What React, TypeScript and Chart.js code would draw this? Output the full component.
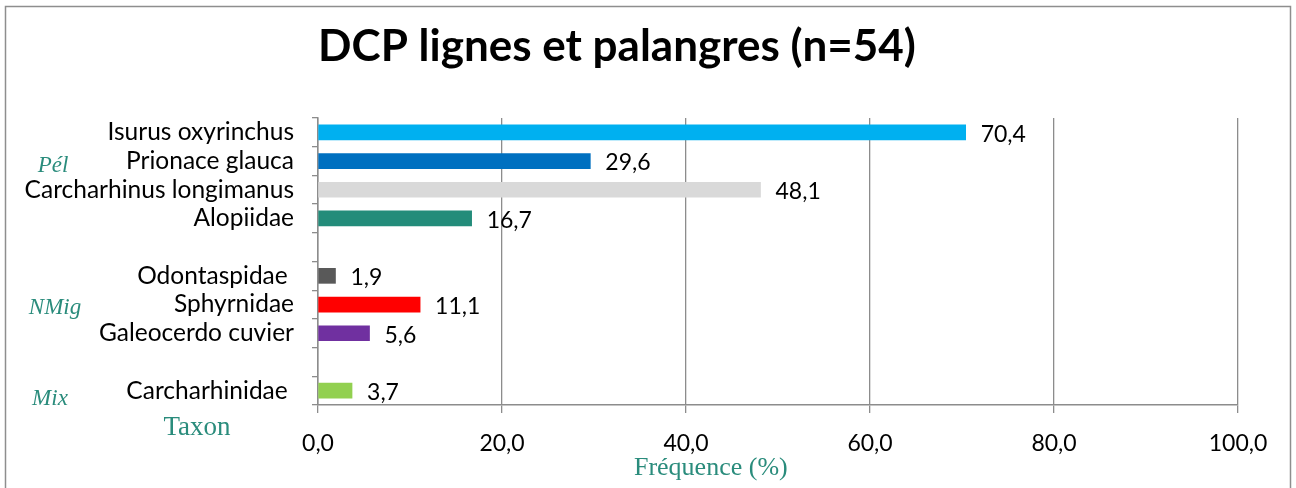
import React, { useEffect, useRef } from 'react';
import { Chart, registerables } from 'chart.js';

Chart.register(...registerables);

const title = 'DCP lignes et palangres (n=54)';
const categories = [
  'Isurus oxyrinchus',
  'Prionace glauca',
  'Carcharhinus longimanus',
  'Alopiidae',
  '',
  'Odontaspidae ',
  'Sphyrnidae',
  'Galeocerdo cuvier',
  '',
  'Carcharhinidae ',
];
const values: (number | null)[] = [70.4, 29.6, 48.1, 16.7, null, 1.9, 11.1, 5.6, null, 3.7];
const barColors = ['#00B0F0', '#0070C0', '#D9D9D9', '#238C7A', '#FFFFFF', '#595959', '#FF0000', '#7030A0', '#FFFFFF', '#92D050'];
const groupLabels = ['Pél', 'NMig', 'Mix'];
const groupIndex = [1, 6, 9];
const xMin = 0;
const xMax = 100;
const xStep = 20;
const yAxisTitle = 'Taxon';
const xAxisTitle = 'Fréquence (%)';

const fmt = (v: number) => v.toFixed(1).replace('.', ',');

const SANS = 'Lato, "Noto Sans", sans-serif';
const SERIF = '"Liberation Serif", "DejaVu Serif", serif';
const TEAL = '#2A8C7C';
const GRID = '#8C8C8C';

const decorPlugin = {
  id: 'decor',
  afterDraw(chart: any) {
    const ctx = chart.ctx as CanvasRenderingContext2D;
    const xs = chart.scales.x;
    const ys = chart.scales.y;
    ctx.save();
    // outer border
    ctx.strokeStyle = '#8E8E8E';
    ctx.lineWidth = 1.5;
    ctx.strokeRect(5.5, 6.5, chart.width - 11, chart.height + 50);

    // title
    ctx.fillStyle = '#000';
    ctx.font = `bold 44px ${SANS}`;
    ctx.textAlign = 'center';
    ctx.textBaseline = 'middle';
    ctx.fillText(title, 617, 47);

    // value labels
    ctx.font = `23px ${SANS}`;
    ctx.textAlign = 'left';
    const meta = chart.getDatasetMeta(0);
    meta.data.forEach((bar: any, i: number) => {
      const v = values[i];
      if (v == null) return;
      ctx.fillText(fmt(v), bar.x + 15, bar.y + 2);
    });

    // group labels
    ctx.fillStyle = TEAL;
    ctx.font = `italic 23px ${SERIF}`;
    ctx.textAlign = 'center';
    const gx = [53, 55, 50];
    const gdy = [5, 3, 8];
    groupLabels.forEach((g, i) => {
      ctx.fillText(g, gx[i], ys.getPixelForValue(groupIndex[i]) + gdy[i]);
    });

    // axis titles
    ctx.font = `27px ${SERIF}`;
    ctx.fillText(yAxisTitle, 197, 428);
    ctx.font = `26px ${SERIF}`;
    ctx.fillText(xAxisTitle, xs.getPixelForValue(42.7), 468);
    ctx.restore();
  },
};

export default function App() {
  const ref = useRef<HTMLCanvasElement>(null);
  useEffect(() => {
    if (!ref.current) return;
    const chart = new Chart(ref.current, {
      type: 'bar',
      data: {
        labels: categories,
        datasets: [
          {
            data: values,
            backgroundColor: barColors,
            barThickness: 15,
          },
        ],
      },
      options: {
        indexAxis: 'y',
        responsive: false,
        animation: false,
        events: [],
        layout: { padding: { top: 118, right: 58, left: 0, bottom: 0 } },
        plugins: {
          legend: { display: false },
          title: { display: false },
          tooltip: { enabled: false },
        },
        scales: {
          x: {
            min: xMin,
            max: xMax,
            ticks: {
              stepSize: xStep,
              callback: (v: any) => fmt(Number(v)),
              font: { family: SANS, size: 23 },
              color: '#000',
              padding: 17,
              maxRotation: 0,
            },
            grid: { color: GRID, lineWidth: 1.3, tickLength: 8 },
            border: { color: GRID, width: 1.5 },
            afterFit: (s: any) => {
              s.height = 83;
            },
          },
          y: {
            ticks: {
              font: { family: SANS, size: 24.5 },
              color: '#000',
              padding: 18,
              autoSkip: false,
            },
            grid: { offset: true, drawOnChartArea: false, color: GRID, lineWidth: 1.3, tickLength: 6 },
            border: { color: GRID, width: 1.5 },
            afterFit: (s: any) => {
              s.width = 318;
            },
          },
        },
      },
      plugins: [decorPlugin],
    });
    return () => chart.destroy();
  }, []);
  return (
    <div style={{ position: 'fixed', left: 0, top: 0, width: 1296, height: 488, background: '#fff' }}>
      <canvas ref={ref} width={1296} height={488} style={{ display: 'block' }} />
    </div>
  );
}
